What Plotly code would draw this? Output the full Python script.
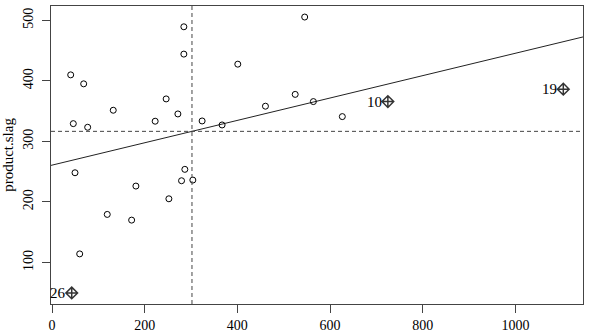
import numpy as np
import plotly.graph_objects as go

# Regular (non-influential) observations
x_vals = [40.3, 68.3, 132.1, 246.3, 271.6, 45.9, 76.9, 222.6, 284.5, 284.5,
          400.9, 323.9, 367.0, 460.6, 524.8, 49.6, 286.6, 279.5, 303.9, 181.0,
          252.2, 119.2, 171.8, 59.7, 545.3, 564.0, 626.5]
lag_vals = [409.8, 395.0, 351.4, 370.1, 345.3, 329.3, 323.3, 333.3, 489.2, 444.1,
            427.5, 333.7, 327.1, 358.1, 377.6, 248.2, 253.8, 235.0, 236.1, 226.2,
            205.2, 179.4, 170.0, 114.2, 505.3, 365.7, 340.9]

# Influential observations
infl_ids = ["10", "19", "26"]
infl_x = [724.8, 1103.4, 42.5]
infl_lag = [365.7, 386.2, 49.7]

x_ticks = [0, 200, 400, 600, 800, 1000]
y_ticks = [100, 200, 300, 400, 500]
y_title = "product.slag"

all_x = np.array(x_vals + infl_x)
all_y = np.array(lag_vals + infl_lag)
slope, intercept = np.polyfit(all_x, all_y, 1)

def padded(a):
    lo, hi = a.min(), a.max()
    d = (hi - lo) * 0.04
    return [lo - d, hi + d]

xr = padded(all_x)
yr = padded(all_y)

SERIF = "Liberation Serif, Times New Roman, serif"
AX = "#444444"

fig = go.Figure()
fig.add_trace(go.Scatter(
    x=xr, y=[intercept + slope * v for v in xr], mode="lines",
    line=dict(color="#222222", width=1), hoverinfo="skip", showlegend=False))
fig.add_trace(go.Scatter(
    x=x_vals, y=lag_vals, mode="markers",
    marker=dict(symbol="circle-open", size=6, color="black", line=dict(width=1)),
    showlegend=False))
fig.add_trace(go.Scatter(
    x=infl_x, y=infl_lag, mode="markers",
    marker=dict(symbol="diamond-cross-open", size=9, color="#333333", line=dict(width=1.5)),
    showlegend=False))

for lab, xv, yv in zip(infl_ids, infl_x, infl_lag):
    fig.add_annotation(x=xv, y=yv, text=lab, showarrow=False, xanchor="right",
                       xshift=-4, yshift=0, font=dict(family=SERIF, size=15, color="black"))

fig.add_shape(type="line", xref="x", yref="paper", x0=all_x.mean(), x1=all_x.mean(),
              y0=0, y1=1, line=dict(color=AX, width=1, dash="4px,3px"))
fig.add_shape(type="line", xref="paper", yref="y", x0=0, x1=1, y0=all_y.mean(),
              y1=all_y.mean(), line=dict(color=AX, width=1, dash="4px,3px"))

fig.update_layout(
    width=592, height=333,
    margin=dict(l=51, r=9, t=6, b=29),
    plot_bgcolor="white", paper_bgcolor="white",
    font=dict(family=SERIF, size=15, color="black"),
)
fig.update_xaxes(range=xr, tickvals=x_ticks, showgrid=False, zeroline=False,
                 showline=True, mirror=True, linecolor=AX, linewidth=1,
                 ticks="outside", ticklen=8, tickcolor=AX, automargin=False,
                 ticklabelstandoff=0,
                 tickfont=dict(family=SERIF, size=14, color="black"))
fig.update_yaxes(range=yr, tickvals=y_ticks, showgrid=False, zeroline=False,
                 showline=True, mirror=True, linecolor=AX, linewidth=1,
                 ticks="outside", ticklen=8, tickcolor=AX, tickangle=-90,
                 ticklabelstandoff=3, automargin=False,
                 tickfont=dict(family=SERIF, size=14, color="black"),
                 title=dict(text=y_title, font=dict(family=SERIF, size=15, color="black"),
                            standoff=4))

fig.write_html("out.html", config={"displayModeBar": False},
               post_script="document.body.style.margin='0';document.body.style.overflow='hidden';")
